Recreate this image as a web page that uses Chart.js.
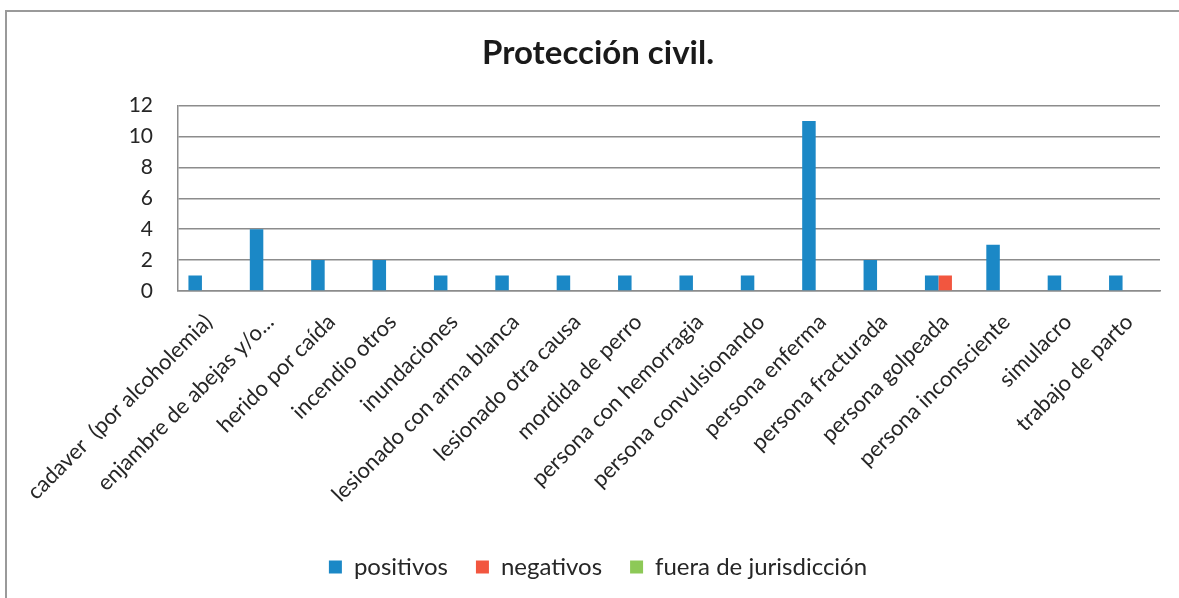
<!DOCTYPE html>
<html>
<head>
<meta charset="utf-8">
<script src="https://cdn.jsdelivr.net/npm/chart.js@4"></script>
<style>
    html, body { margin: 0; padding: 0; background: #fff; }
    #wrap { position: relative; width: 1179px; height: 598px; }
    #frame {
        position: absolute; left: 5px; top: 10px; width: 1180px; height: 600px;
        border-top: 2px solid #9a9a9a; border-left: 2px solid #9a9a9a;
    }
    #chart { position: absolute; left: 0; top: 0; }
</style>
</head>
<body>
<div id="wrap">
    <div id="frame"></div>
    <canvas id="chart" width="1179" height="598"></canvas>
</div>
<script>
const categories = [
    'cadaver  (por alcoholemia)',
    'enjambre de abejas y/o...',
    'herido por caída',
    'incendio otros',
    'inundaciones',
    'lesionado con arma blanca',
    'lesionado otra causa',
    'mordida de perro',
    'persona con hemorragia',
    'persona convulsionando',
    'persona enferma',
    'persona fracturada',
    'persona golpeada',
    'persona inconsciente',
    'simulacro',
    'trabajo de parto'
];
const positivos = [1, 4, 2, 2, 1, 1, 1, 1, 1, 1, 11, 2, 1, 3, 1, 1];
const negativos = [0, 0, 0, 0, 0, 0, 0, 0, 0, 0, 0, 0, 1, 0, 0, 0];
const fueraJurisdiccion = [0, 0, 0, 0, 0, 0, 0, 0, 0, 0, 0, 0, 0, 0, 0, 0];
const yTicks = [0, 2, 4, 6, 8, 10, 12];

const fontFamily = 'Lato, "Open Sans", sans-serif';
const textColor = '#262626';
const gridColor = '#8c8c8c';

const ctx = document.getElementById('chart').getContext('2d');
new Chart(ctx, {
    type: 'bar',
    data: {
        labels: categories,
        datasets: [
            {
                label: 'positivos',
                data: positivos,
                backgroundColor: '#1b88c6',
                borderWidth: 0
            },
            {
                label: 'negativos',
                data: negativos,
                backgroundColor: '#f2563f',
                borderWidth: 0
            },
            {
                label: 'fuera de jurisdicción',
                data: fueraJurisdiccion,
                backgroundColor: '#8dc957',
                borderWidth: 0
            }
        ]
    },
    options: {
        responsive: false,
        animation: false,
        devicePixelRatio: 1,
        categoryPercentage: 0.66,
        barPercentage: 1.0,
        layout: {
            padding: { left: 36, right: 19, top: 0, bottom: 9 }
        },
        scales: {
            y: {
                min: 0,
                max: 12,
                afterFit: function(scale) { scale.width = 142; },
                afterBuildTicks: function(scale) {
                    scale.ticks = yTicks.map(v => ({ value: v }));
                },
                grid: {
                    color: gridColor,
                    lineWidth: 1.5,
                    drawTicks: false
                },
                border: { display: true, color: gridColor, width: 1.5 },
                ticks: {
                    padding: 25,
                    color: textColor,
                    font: { family: fontFamily, size: 21 }
                }
            },
            x: {
                afterFit: function(scale) { scale.height = 236; },
                grid: { display: false, drawTicks: false },
                border: { display: true, color: gridColor, width: 1.5 },
                ticks: {
                    autoSkip: false,
                    maxRotation: 45,
                    minRotation: 45,
                    padding: 18,
                    color: textColor,
                    font: { family: fontFamily, size: 22 }
                }
            }
        },
        plugins: {
            title: {
                display: true,
                text: 'Protección civil.',
                color: '#1a1a1a',
                font: { family: fontFamily, size: 33, weight: 'bold' },
                padding: { top: 34, bottom: 32 }
            },
            legend: {
                position: 'bottom',
                labels: {
                    boxWidth: 13,
                    boxHeight: 13,
                    padding: 28,
                    color: textColor,
                    font: { family: fontFamily, size: 24 }
                }
            },
            tooltip: { enabled: false }
        }
    }
});
</script>
</body>
</html>
